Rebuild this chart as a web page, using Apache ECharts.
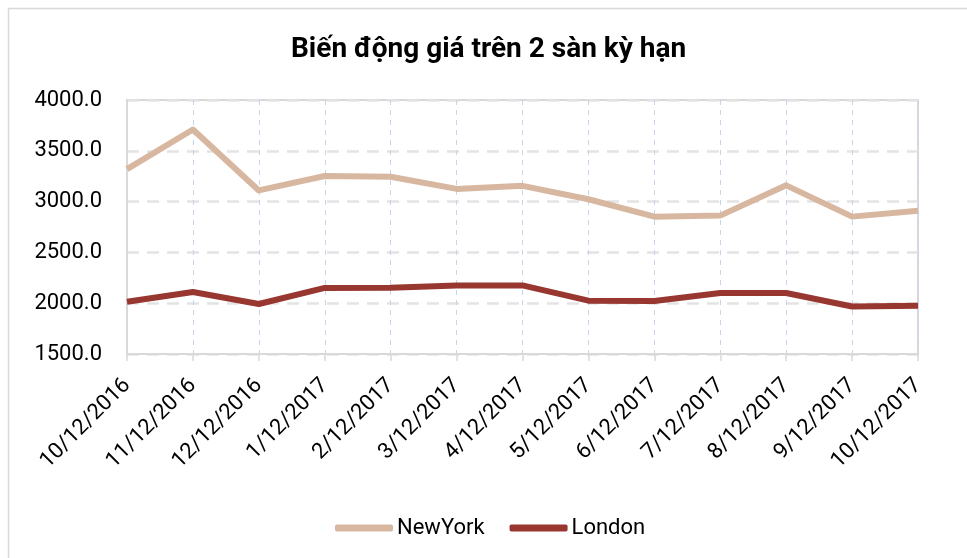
<!DOCTYPE html>
<html><head><meta charset="utf-8">
<script src="https://cdn.jsdelivr.net/npm/echarts@6/dist/echarts.min.js"></script>
<style>html,body{margin:0;padding:0;background:#fff}#c{width:967px;height:558px}</style>
</head><body><div id="c"></div>
<script>
const categories = ['10/12/2016','11/12/2016','12/12/2016','1/12/2017','2/12/2017','3/12/2017','4/12/2017','5/12/2017','6/12/2017','7/12/2017','8/12/2017','9/12/2017','10/12/2017'];
const newYork = [3320, 3710, 3110, 3252, 3245, 3125, 3155, 3023, 2852, 2862, 3160, 2852, 2910];
const london = [2015, 2110, 1992, 2150, 2152, 2173, 2175, 2025, 2022, 2100, 2100, 1968, 1975];
const yTicks = {min: 1500, max: 4000, interval: 500};

const chart = echarts.init(document.getElementById('c'));
const font = 'Roboto, "Noto Sans", sans-serif';
chart.setOption({
  animation: false,
  graphic: [{type: 'rect', shape: {x: 8.5, y: 8.5, width: 1000, height: 600}, style: {fill: 'none', stroke: '#d9d9d9', lineWidth: 1.5}, silent: true, z: -1}],
  title: {text: 'Biến động giá trên 2 sàn kỳ hạn', left: 286, top: 31,
    textStyle: {fontFamily: font, fontSize: 28, fontWeight: 'bold', color: '#000'}},
  legend: {top: 512, left: 330, itemWidth: 58, itemHeight: 7, itemGap: 25,
    icon: 'roundRect',
    textStyle: {fontFamily: font, fontSize: 22, color: '#000', padding: [0,0,0,-1]},
    data: ['NewYork', 'London']},
  grid: {left: 127, right: 49, top: 100, bottom: 204, show: true, borderColor: '#d9d9d9', borderWidth: 2, containLabel: false},
  xAxis: {type: 'category', data: categories, boundaryGap: false,
    axisLine: {lineStyle: {color: '#d9d9d9', width: 2}},
    axisTick: {show: true, length: 7, lineStyle: {color: '#d9d9d9', width: 1.5}},
    axisLabel: {rotate: 45, interval: 0, fontFamily: font, fontSize: 22, color: '#000', margin: 28},
    splitLine: {show: true, lineStyle: {color: '#c6d4ee', type: [5, 5], width: 1}}},
  yAxis: {type: 'value', min: yTicks.min, max: yTicks.max, interval: yTicks.interval,
    axisLine: {show: true, lineStyle: {color: '#d9d9d9', width: 2}},
    axisTick: {show: false},
    axisLabel: {fontFamily: font, fontSize: 22, color: '#000', margin: 25, formatter: v => v.toFixed(1)},
    splitLine: {show: true, lineStyle: {color: '#e3e3e3', type: [12, 8], width: 2.5}}},
  series: [
    {name: 'NewYork', type: 'line', data: newYork, symbol: 'none', lineStyle: {color: '#d8b7a1', width: 6, join: 'round'}, itemStyle: {color: '#d8b7a1'}},
    {name: 'London', type: 'line', data: london, symbol: 'none', lineStyle: {color: '#983630', width: 6, join: 'round'}, itemStyle: {color: '#983630'}}
  ]
});
</script></body></html>
